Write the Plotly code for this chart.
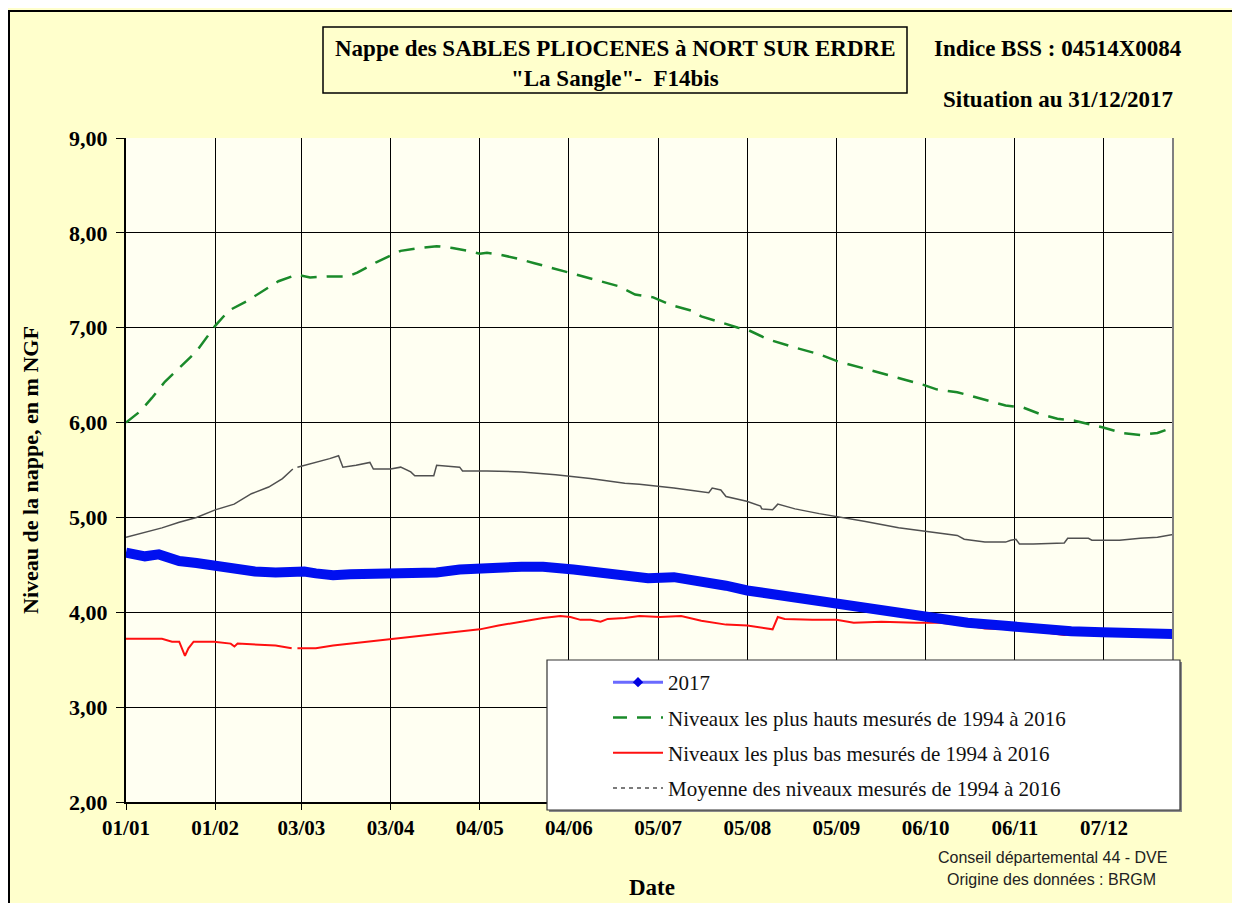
import pandas as pd
import plotly.graph_objects as go

# Days since 01/01/2017 and levels (m NGF)
max_days = [0, 5, 9, 13.5, 19, 24.5, 31, 35.7, 42, 46.6, 53, 59.4, 64, 70, 77, 80.4, 87, 92,
            95.5, 102, 108, 113.5, 119, 123, 125.5, 130, 136, 142, 148, 153.5, 160, 166, 171,
            177, 183.3, 189.4, 196.6, 200, 206, 212.8, 216, 223, 232.6, 241, 247, 253, 259,
            267.4, 277, 281.8, 289, 293.8, 299.8, 305.8, 311.8, 317.8, 323.8, 329.8, 339.4,
            346.6, 352.6, 358.6, 364]
max_vals = [6.00, 6.12, 6.26, 6.43, 6.59, 6.75, 7.02, 7.18, 7.28, 7.37, 7.49, 7.56, 7.53, 7.54,
            7.54, 7.58, 7.69, 7.76, 7.81, 7.84, 7.86, 7.84, 7.81, 7.78, 7.79, 7.77, 7.73, 7.68,
            7.63, 7.58, 7.53, 7.48, 7.44, 7.35, 7.32, 7.24, 7.18, 7.12, 7.06, 7.00, 6.98, 6.88,
            6.79, 6.72, 6.65, 6.60, 6.55, 6.48, 6.40, 6.35, 6.32, 6.28, 6.23, 6.18, 6.16, 6.09,
            6.04, 6.02, 5.95, 5.89, 5.87, 5.89, 5.95]

mean_days = [0, 6.6, 12.5, 18.5, 24.5, 31, 37.6, 43.6, 49.6, 54.4, 58, 59, 59.6, 66, 70.8, 73.9,
             75.4, 80, 84.8, 86, 92, 95.5, 99, 100.4, 107, 108, 116, 117, 125.5, 137.5, 149.4,
             161.4, 173.4, 178.5, 190.5, 202.6, 203.8, 206.8, 208.6, 215.8, 220.6, 221, 224.8,
             226.6, 232.6, 241, 247, 256.6, 268.6, 280.6, 289, 291.4, 298.6, 305.8, 307.6, 309.4,
             310.6, 315.4, 326.2, 327.4, 334.6, 335.8, 345.4, 352.6, 358.6, 364]
mean_vals = [4.79, 4.84, 4.89, 4.95, 5.00, 5.08, 5.14, 5.25, 5.32, 5.41, 5.51, None, 5.53, 5.58,
             5.62, 5.65, 5.53, 5.55, 5.58, 5.51, 5.51, 5.53, 5.48, 5.44, 5.44, 5.55, 5.53, 5.49,
             5.49, 5.48, 5.45, 5.41, 5.36, 5.35, 5.31, 5.26, 5.31, 5.29, 5.22, 5.17, 5.12, 5.09,
             5.08, 5.14, 5.09, 5.04, 5.01, 4.96, 4.89, 4.84, 4.81, 4.77, 4.74, 4.74, 4.76, 4.77,
             4.72, 4.72, 4.73, 4.78, 4.78, 4.76, 4.76, 4.78, 4.79, 4.82]

min_days = [0, 6.6, 12.5, 16, 18.5, 20.5, 21.7, 23.5, 30.6, 36.4, 37.7, 38.8, 44.9, 52, 57.6, 59,
            59.6, 66, 72, 78, 85, 92, 101, 108, 116, 123, 129.5, 137.5, 145, 151, 154.5, 158,
            161.5, 165, 167.5, 173.4, 178.5, 185.7, 193, 200, 208.6, 216, 221.8, 224.8, 226.6,
            229, 238.6, 247, 253, 262.6, 274.6, 283, 292.6, 298.6, 308.2, 316.6, 326.2, 332.2,
            340.6, 352.6, 364]
min_vals = [3.72, 3.72, 3.72, 3.69, 3.69, 3.54, 3.62, 3.69, 3.69, 3.67, 3.64, 3.67, 3.66, 3.65,
            3.62, None, 3.62, 3.62, 3.65, 3.67, 3.69, 3.72, 3.75, 3.77, 3.80, 3.82, 3.86, 3.90,
            3.94, 3.96, 3.95, 3.92, 3.92, 3.90, 3.93, 3.94, 3.96, 3.95, 3.96, 3.91, 3.87, 3.86,
            3.83, 3.82, 3.95, 3.93, 3.92, 3.92, 3.89, 3.90, 3.89, 3.89, 3.86, 3.83, 3.82, 3.80,
            3.76, 3.79, 3.76, 3.78, 3.79]

y2017_days = [0, 6.6, 11.4, 18.5, 24.5, 31, 37.6, 44.8, 52, 58, 62, 66, 72, 78, 85, 92, 101, 108,
              116, 123, 129.5, 137.5, 145, 155.6, 161.5, 167.5, 176, 181.5, 190.5, 200, 208.6,
              216, 226.6, 238.6, 247, 256.6, 268.6, 280.6, 292.6, 304.6, 316.6, 328.6, 339.4,
              352.6, 364]
y2017_vals = [4.63, 4.59, 4.61, 4.54, 4.52, 4.49, 4.47, 4.43, 4.42, 4.43, 4.43, 4.41, 4.39, 4.40,
              4.40, 4.41, 4.41, 4.42, 4.45, 4.45, 4.47, 4.48, 4.48, 4.45, 4.43, 4.41, 4.38, 4.36,
              4.37, 4.33, 4.28, 4.23, 4.18, 4.13, 4.09, 4.04, 3.99, 3.94, 3.89, 3.86, 3.82, 3.80,
              3.79, 3.78, 3.77]

tick_days = [0, 31, 61, 92, 123, 154, 185, 216, 247, 278, 309, 340]
y_ticks = [2, 3, 4, 5, 6, 7, 8, 9]

start = pd.Timestamp("2017-01-01")


def to_dates(days):
    return [start + pd.Timedelta(days=d) for d in days]


# the page body adds an 8px margin, so the figure is drawn 8px smaller
OFF = 8
W, H = 1240 - OFF, 903 - OFF
# plot area in screen pixels, used to place the decorations around it
L, R, T, B = 126, 1173, 138, 802


def px(x):
    return (x - L) / (R - L)


def py(y):
    return (B - y) / (B - T)


serif = "Liberation Serif"
fig = go.Figure()

fig.add_trace(go.Scatter(
    x=to_dates(min_days), y=min_vals, mode="lines", showlegend=False,
    line=dict(color="#FF1010", width=2),
))
fig.add_trace(go.Scatter(
    x=to_dates(mean_days), y=mean_vals, mode="lines", showlegend=False,
    line=dict(color="#505050", width=1.5),
))
fig.add_trace(go.Scatter(
    x=to_dates(max_days), y=max_vals, mode="lines", showlegend=False,
    line=dict(color="#1A8A2A", width=2.5, dash="16px,10px"),
))
fig.add_trace(go.Scatter(
    x=to_dates(y2017_days), y=y2017_vals, mode="lines", showlegend=False,
    line=dict(color="#0010F0", width=10),
))

# legend entries (no data, only the swatches)
legend_items = [
    ("2017", "lines+markers", dict(color="#6A6AFF", width=3), dict(symbol="diamond", size=8, color="#0000E0")),
    ("Niveaux les plus hauts mesurés de 1994 à 2016", "lines", dict(color="#1A8A2A", width=2.5, dash="14px,10px"), None),
    ("Niveaux les plus bas mesurés de 1994 à 2016", "lines", dict(color="#FF1010", width=2), None),
    ("Moyenne des niveaux mesurés de 1994 à 2016", "lines", dict(color="#505050", width=1.5, dash="4px,4px"), None),
]
for i, (name, mode, line, marker) in enumerate(legend_items):
    fig.add_trace(go.Scatter(
        x=[None], y=[None], mode=mode, name=name, legendgroup=str(i),
        line=line, marker=marker,
    ))

shapes = [
    # outer frame
    dict(type="rect", xref="paper", yref="paper", x0=px(9), x1=px(1237), y0=py(11), y1=py(915),
         line=dict(color="black", width=2)),
    # title box
    dict(type="rect", xref="paper", yref="paper", x0=px(323), x1=px(907), y0=py(27), y1=py(93),
         line=dict(color="black", width=1.5)),
    # right border of plot area
    dict(type="line", xref="paper", yref="paper", x0=1, x1=1, y0=0, y1=1,
         line=dict(color="#808080", width=2)),
    # legend shadow and box
    dict(type="rect", xref="paper", yref="paper", x0=px(549), x1=px(1182), y0=py(662), y1=py(812),
         fillcolor="#8A8A8A", line=dict(width=0), layer="above"),
    dict(type="rect", xref="paper", yref="paper", x0=px(547), x1=px(1180), y0=py(660), y1=py(810),
         fillcolor="white", line=dict(color="#333333", width=1.2), layer="above"),
]

annotations = [
    dict(text="<b>Nappe des SABLES PLIOCENES à NORT SUR ERDRE</b>", x=px(615), y=py(48),
         font=dict(size=23)),
    dict(text='<b>"La Sangle"-  F14bis</b>', x=px(615), y=py(78), font=dict(size=23)),
    dict(text="<b>Indice BSS : 04514X0084</b>", x=px(1058), y=py(48), font=dict(size=23)),
    dict(text="<b>Situation au 31/12/2017</b>", x=px(1058), y=py(100), font=dict(size=23)),
    dict(text="<b>Date</b>", x=px(652), y=py(887), font=dict(size=23)),
    dict(text="<b>Niveau de la nappe, en m NGF</b>", x=px(30), y=py(470), textangle=-90,
         font=dict(size=22)),
    dict(text="Conseil départemental 44 - DVE", x=px(1052), y=py(857),
         font=dict(size=16, family="Liberation Sans", color="#222222")),
    dict(text="Origine des données : BRGM", x=px(1051), y=py(880),
         font=dict(size=16, family="Liberation Sans", color="#222222")),
]
for a in annotations:
    a.update(xref="paper", yref="paper", showarrow=False, xanchor="center", yanchor="middle")
    a["font"].setdefault("family", serif)
    a["font"].setdefault("color", "black")

fig.update_layout(
    width=W, height=H,
    margin=dict(l=L - OFF, r=W - (R - OFF), t=T - OFF, b=H - (B - OFF)),
    paper_bgcolor="#FFFFCC", plot_bgcolor="#FFFFF2",
    separators=", ",
    font=dict(family=serif, color="black"),
    shapes=shapes, annotations=annotations,
    legend=dict(
        x=px(608), y=py(662), xanchor="left", yanchor="top",
        bgcolor="rgba(0,0,0,0)", borderwidth=0,
        font=dict(family=serif, size=21, color="#111111"),
        traceorder="grouped", tracegroupgap=5, itemwidth=50,
    ),
    xaxis=dict(
        type="date", range=[start, start + pd.Timedelta(days=364)],
        tickvals=to_dates(tick_days), tickformat="%d/%m",
        tickfont=dict(size=21, weight="bold"),
        showgrid=True, gridcolor="black", gridwidth=1,
        showline=True, linecolor="black", linewidth=2, mirror=False,
        ticks="outside", ticklen=6, tickcolor="black", zeroline=False,
    ),
    yaxis=dict(
        range=[2, 9], tickvals=y_ticks, tickformat=".2f",
        tickfont=dict(size=22, weight="bold"), ticklabelstandoff=4,
        showgrid=True, gridcolor="black", gridwidth=1,
        showline=True, linecolor="black", linewidth=2,
        ticks="outside", ticklen=8, tickcolor="black", zeroline=False,
    ),
)

fig.write_html("out.html")
